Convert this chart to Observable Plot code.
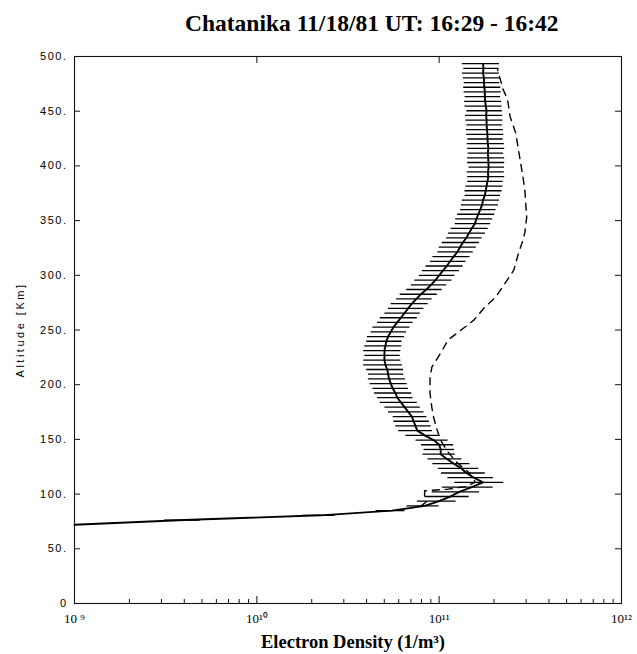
<!DOCTYPE html>
<html>
<head>
<meta charset="utf-8">
<script src="https://cdn.jsdelivr.net/npm/d3@7"></script>
<script src="https://cdn.jsdelivr.net/npm/@observablehq/plot@0.6"></script>
<style>
  body { margin: 0; background: #fff; }
  #title { position: relative; width: 637px; height: 44px; font: bold 23.5px "Liberation Serif", "Times New Roman", serif; color: #000; }
  #title span { position: absolute; left: 185px; top: 12px; line-height: 23px; white-space: nowrap; }
  g[aria-label="y-axis tick label"] { letter-spacing: 1.5px; }
  g[aria-label="y-axis label"] { letter-spacing: 2.5px; }
</style>
</head>
<body>
<div id="title"><span>Chatanika 11/18/81 UT: 16:29 - 16:42</span></div>
<div id="chart"></div>
<script>
// Densities are given in units of 10^10 electrons per m^3.
const UNIT = 1e10;

// Measured profile: altitude (km), mean density, relative error (%)
const altitude = [
  72.0, 76.3, 80.6, 84.9, 89.2, 93.5, 97.8, 102.1, 106.4, 110.7,
  115.0, 119.3, 123.6, 127.9, 132.2, 136.5, 140.8, 145.1, 149.4, 153.7,
  158.0, 162.3, 166.6, 170.9, 175.2, 179.5, 183.8, 188.1, 192.4, 196.7,
  201.0, 205.3, 209.6, 213.9, 218.2, 222.5, 226.8, 231.1, 235.4, 239.7,
  244.0, 248.3, 252.6, 256.9, 261.2, 265.5, 269.8, 274.1, 278.4, 282.7,
  287.0, 291.3, 295.6, 299.9, 304.2, 308.5, 312.8, 317.1, 321.4, 325.7,
  330.0, 334.3, 338.6, 342.9, 347.2, 351.5, 355.8, 360.1, 364.4, 368.7,
  373.0, 377.3, 381.6, 385.9, 390.2, 394.5, 398.8, 403.1, 407.4, 411.7,
  416.0, 420.3, 424.6, 428.9, 433.2, 437.5, 441.8, 446.1, 450.4, 454.7,
  459.0, 463.3, 467.6, 471.9, 476.2, 480.5, 484.8, 489.1, 493.4
];
const density = [
  0.10, 0.40, 2.24, 5.50, 8.32, 10.0, 11.5, 12.9, 15.1, 17.4,
  15.5, 14.1, 13.2, 12.0, 11.0, 10.2, 10.2, 10.0, 9.33, 8.32,
  7.59, 7.41, 7.24, 7.08, 6.76, 6.46, 6.17, 5.89, 5.75, 5.56,
  5.43, 5.31, 5.25, 5.19, 5.07, 5.01, 5.01, 5.01, 5.07, 5.13,
  5.25, 5.43, 5.62, 5.89, 6.17, 6.46, 6.76, 7.08, 7.50, 7.94,
  8.51, 9.02, 9.55, 10.0, 10.5, 11.0, 11.5, 12.0, 12.6, 13.0,
  13.5, 14.1, 14.6, 15.1, 15.7, 16.0, 16.4, 16.8, 17.2, 17.4,
  17.8, 18.0, 18.2, 18.4, 18.6, 18.5, 18.7, 18.6, 18.6, 18.5,
  18.6, 18.5, 18.4, 18.4, 18.3, 18.2, 18.2, 18.1, 18.2, 18.0,
  17.9, 17.8, 17.8, 17.7, 17.6, 17.6, 17.4, 17.5, 17.4
];
const relError = [
  0, 22, 20, 18, 20, 24, 27, 29, 31, 30,
  28, 27, 25, 23, 21, 20, 19, 20, 20, 21,
  21, 22, 22, 21, 22, 22, 23, 22, 23, 22,
  23, 23, 22, 23, 24, 23, 22, 23, 23, 22,
  23, 22, 23, 22, 23, 22, 22, 23, 22, 23,
  22, 22, 23, 22, 23, 23, 22, 23, 22, 23,
  23, 22, 23, 23, 22, 23, 23, 22, 23, 23,
  22, 23, 23, 22, 23, 23, 22, 23, 23, 22,
  23, 23, 22, 23, 23, 22, 23, 23, 22, 23,
  23, 22, 23, 23, 22, 23, 23, 22, 23
];

// Model profile (dashed)
const modelAltitude = [
  89, 93, 98, 103, 104.5, 107, 111, 120, 130, 140,
  149, 158, 170, 179, 192, 207, 216, 229, 241, 250,
  259, 271, 280, 296, 305, 320, 332, 339, 353, 378,
  390, 415, 430, 445, 461, 470, 488
];
const modelDensity = [
  7.94, 8.51, 8.32, 8.32, 11.2, 14.1, 15.8, 14.5, 12.3, 11.0,
  10.2, 9.77, 9.33, 9.12, 8.91, 8.91, 9.12, 10.2, 11.2, 13.2,
  15.5, 17.8, 20.4, 23.7, 25.7, 27.2, 28.8, 29.5, 30.2, 29.5,
  28.8, 27.2, 26.3, 24.5, 23.7, 22.4, 20.9
];

// Axis ticks
const yTicks = [0, 50, 100, 150, 200, 250, 300, 350, 400, 450, 500];
const xMajor = [1e9, 1e10, 1e11, 1e12];
const xTickLabels = ["10 \u2079", "10\u00b9\u2070", "10\u00b9\u00b9", "10\u00b9\u00b2"];
const xMinor = [
  2e9, 3e9, 4e9, 5e9, 6e9, 7e9, 8e9, 9e9,
  2e10, 3e10, 4e10, 5e10, 6e10, 7e10, 8e10, 9e10,
  2e11, 3e11, 4e11, 5e11, 6e11, 7e11, 8e11, 9e11
];

const profile = altitude.map((a, i) => ({
  alt: a,
  n: density[i] * UNIT,
  lo: density[i] * (1 - relError[i] / 100) * UNIT,
  hi: density[i] * (1 + relError[i] / 100) * UNIT
}));
const model = modelAltitude.map((a, i) => ({ alt: a, n: modelDensity[i] * UNIT }));

const W = 637, H = 610;
const mL = 74, mR = 16, mT = 12, mB = 51;
const fw = W - mL - mR, fh = H - mT - mB;

const chart = Plot.plot({
  width: W,
  height: H,
  marginLeft: mL,
  marginRight: mR,
  marginTop: mT,
  marginBottom: mB,
  x: { type: "log", domain: [1e9, 1e12] },
  y: { domain: [0, 500] },
  style: { background: "#fff", color: "#000", overflow: "visible" },
  marks: [
    Plot.frame({ stroke: "#111", strokeWidth: 1.1 }),
    // inward ticks on left and right edges
    Plot.tickY(yTicks.slice(1, -1), { y: d => d, insetRight: fw - 6, stroke: "#111" }),
    Plot.tickY(yTicks.slice(1, -1), { y: d => d, insetLeft: fw - 6, stroke: "#111" }),
    // inward ticks on bottom (minor + decades) and top (decades)
    Plot.tickX(xMinor, { x: d => d, insetTop: fh - 4, stroke: "#111" }),
    Plot.tickX(xMajor.slice(1, -1), { x: d => d, insetTop: fh - 7, stroke: "#111" }),
    Plot.tickX(xMajor.slice(1, -1), { x: d => d, insetBottom: fh - 7, stroke: "#111" }),
    Plot.axisY(yTicks, {
      tickSize: 0,
      tickPadding: 7,
      tickFormat: d => (d === 0 ? "0" : d + "."),
      fontSize: 11,
      fontFamily: "Liberation Sans, Arial, sans-serif",
      label: "Altitude [Km]",
      labelAnchor: "center",
      labelArrow: "none",
      labelOffset: 58
    }),
    Plot.axisX(xMajor, {
      tickSize: 0,
      tickPadding: 10,
      tickFormat: d => xTickLabels[xMajor.indexOf(d)],
      fontSize: 13,
      fontFamily: "Liberation Serif, Times New Roman, serif",
      label: null
    }),
    Plot.text(["Electron Density (1/m\u00b3)"], {
      frameAnchor: "bottom",
      lineAnchor: "middle",
      dy: 39,
      dx: 5,
      fontSize: 18.5,
      fontWeight: "bold",
      fontFamily: "Liberation Serif, Times New Roman, serif"
    }),
    // error bars
    Plot.ruleY(profile, { y: "alt", x1: "lo", x2: "hi", stroke: "#000", strokeWidth: 1.3 }),
    // model profile
    Plot.line(model, { x: "n", y: "alt", stroke: "#000", strokeWidth: 1.4, strokeDasharray: "7,6" }),
    // measured profile
    Plot.line(profile, { x: "n", y: "alt", stroke: "#000", strokeWidth: 1.9 })
  ]
});

document.getElementById("chart").appendChild(chart);
</script>
</body>
</html>
